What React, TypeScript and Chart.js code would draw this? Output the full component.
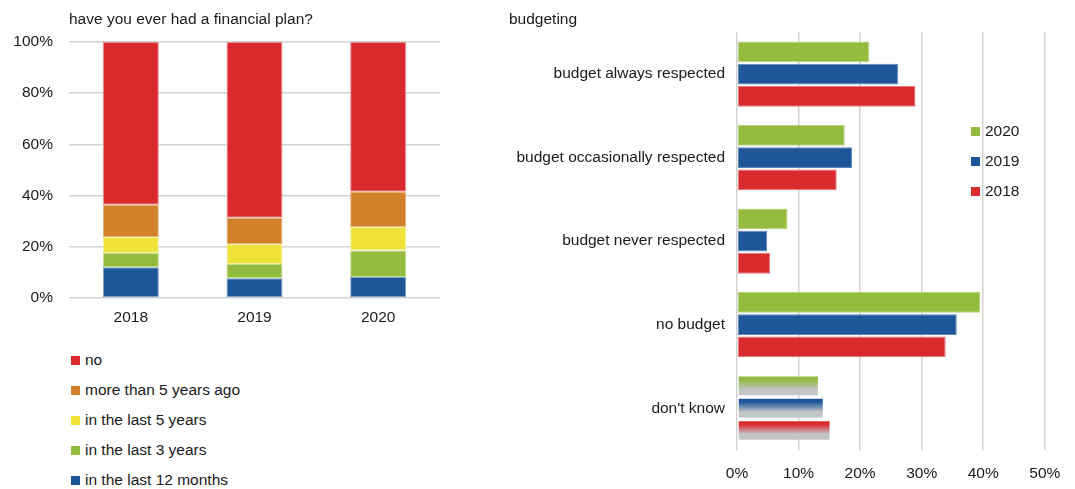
import React, { useEffect, useRef } from "react";
import { Chart, registerables } from "chart.js";

Chart.register(...registerables);

// ---------- Data: "have you ever had a financial plan?" ----------
const planYears = ["2018", "2019", "2020"];
const planLast12Months = [12.0, 7.7, 8.2];
const planLast3Years = [5.6, 5.6, 10.4];
const planLast5Years = [6.2, 7.8, 9.1];
const planMoreThan5Years = [12.6, 10.2, 13.8];
const planNo = [63.6, 68.7, 58.5];
const planSeriesNames = [
  "in the last 12 months",
  "in the last 3 years",
  "in the last 5 years",
  "more than 5 years ago",
  "no",
];
const planTickValues = [0, 20, 40, 60, 80, 100];

// ---------- Data: "budgeting" ----------
const budgetCategories = [
  "budget always respected",
  "budget occasionally respected",
  "budget never respected",
  "no budget",
  "don't know",
];
const budgetSeriesNames = ["2020", "2019", "2018"];
const budget2020 = [21.5, 17.5, 8.2, 39.5, 13.3];
const budget2019 = [26.2, 18.7, 4.9, 35.7, 14.1];
const budget2018 = [29.0, 16.2, 5.4, 33.9, 15.2];
const budgetTickValues = [0, 10, 20, 30, 40, 50];
const fadedCategory = "don't know";

// ---------- Styles ----------
const RED = "#d92b2e";
const ORANGE = "#d2802a";
const YELLOW = "#efe33b";
const GREEN = "#93bb3e";
const BLUE = "#1e5799";
const FADE_GREY = "#c3c4c6";
const TEXT = "#1a1a1a";
const GRID = "#d3d3d3";
const FONT_FAMILY = "'Liberation Sans', Arial, sans-serif";
const FONT_SIZE = 15.5;

const planColors = [BLUE, GREEN, YELLOW, ORANGE, RED];
const budgetColors = [GREEN, BLUE, RED];
const budgetBorders = ["#b4d27a", "#5f86b8", "#e87a7c"];
const planBorders = ["#7fa0c8", "#c2db92", "#f7f0a0", "#e8b483", "#ee8f90"];

const CAT_PCT = 0.8;
const BAR_PCT = 0.93;

function PlanChart() {
  const ref = useRef<HTMLCanvasElement>(null);
  useEffect(() => {
    if (!ref.current) return;
    const values = [planLast12Months, planLast3Years, planLast5Years, planMoreThan5Years, planNo];
    const chart = new Chart(ref.current, {
      type: "bar",
      data: {
        labels: planYears,
        datasets: values.map((v, i) => ({
          label: planSeriesNames[i],
          data: v,
          backgroundColor: planColors[i],
          borderColor: planBorders[i],
          borderWidth: 1,
          borderSkipped: false,
          categoryPercentage: 1,
          barPercentage: 0.453,
        })),
      },
      options: {
        responsive: false,
        animation: false,
        layout: { padding: { left: 0, right: 10, top: 0, bottom: 0 } },
        plugins: {
          legend: { display: false },
          tooltip: { enabled: false },
          title: {
            display: true,
            text: "have you ever had a financial plan?",
            align: "start",
            fullSize: false,
            color: TEXT,
            font: { family: FONT_FAMILY, size: FONT_SIZE, weight: "normal" },
            padding: { top: 10.7, bottom: 12.7 },
          },
        },
        scales: {
          x: {
            stacked: true,
            grid: { display: false, drawTicks: false },
            border: { display: false },
            ticks: {
              color: TEXT,
              padding: 10.2,
              font: { family: FONT_FAMILY, size: FONT_SIZE },
            },
            afterFit: (s: any) => {
              s.height = 32;
            },
          },
          y: {
            stacked: true,
            min: 0,
            max: 100,
            afterBuildTicks: (s: any) => {
              s.ticks = planTickValues.map((v) => ({ value: v }));
            },
            grid: { color: GRID, lineWidth: 1.5, drawTicks: false },
            border: { display: false },
            ticks: {
              color: TEXT,
              padding: 16,
              font: { family: FONT_FAMILY, size: FONT_SIZE },
              callback: (v: any) => v + "%",
            },
            afterFit: (s: any) => {
              s.width = 69;
            },
          },
        },
      },
    });
    return () => chart.destroy();
  }, []);
  return <canvas ref={ref} width={450} height={330} style={{ width: 450, height: 330, display: "block" }} />;
}

function fadedFill(ctx: any, color: string) {
  if (ctx.type !== "data") return color;
  if (budgetCategories[ctx.dataIndex] !== fadedCategory) return color;
  const chart = ctx.chart;
  const ys = chart.scales && chart.scales.y;
  if (!ys || ys.top === undefined || ys.bottom === undefined) return color;
  const catH = (ys.bottom - ys.top) / budgetCategories.length;
  const groupH = catH * CAT_PCT;
  const slot = groupH / budgetSeriesNames.length;
  const center = ys.getPixelForValue(ctx.dataIndex);
  const top = center - groupH / 2 + ctx.datasetIndex * slot + (slot * (1 - BAR_PCT)) / 2;
  const h = slot * BAR_PCT;
  if (!isFinite(top) || !isFinite(h)) return color;
  const g = chart.ctx.createLinearGradient(0, top, 0, top + h);
  g.addColorStop(0, color);
  g.addColorStop(0.2, color);
  g.addColorStop(0.68, FADE_GREY);
  g.addColorStop(1, FADE_GREY);
  return g;
}

function BudgetChart() {
  const ref = useRef<HTMLCanvasElement>(null);
  useEffect(() => {
    if (!ref.current) return;
    const values = [budget2020, budget2019, budget2018];
    const chart = new Chart(ref.current, {
      type: "bar",
      data: {
        labels: budgetCategories,
        datasets: values.map((v, i) => ({
          label: budgetSeriesNames[i],
          data: v,
          backgroundColor: (c: any) => fadedFill(c, budgetColors[i]),
          borderColor: (c: any) =>
            budgetCategories[c.dataIndex] === fadedCategory ? "rgba(255,255,255,0.4)" : budgetBorders[i],
          borderWidth: 1,
          borderSkipped: false,
          categoryPercentage: CAT_PCT,
          barPercentage: BAR_PCT,
        })),
      },
      options: {
        indexAxis: "y",
        responsive: false,
        animation: false,
        layout: { padding: { left: 29, right: 29.8, top: 0, bottom: 0 } },
        plugins: {
          legend: { display: false },
          tooltip: { enabled: false },
          title: {
            display: true,
            text: "budgeting",
            align: "start",
            fullSize: true,
            color: TEXT,
            font: { family: FONT_FAMILY, size: FONT_SIZE, weight: "normal" },
            padding: { top: 10.7, bottom: 3.0 },
          },
        },
        scales: {
          x: {
            min: 0,
            max: 50,
            afterBuildTicks: (s: any) => {
              s.ticks = budgetTickValues.map((v) => ({ value: v }));
            },
            grid: { color: GRID, lineWidth: 1.5, drawTicks: false },
            border: { display: false },
            ticks: {
              color: TEXT,
              padding: 14.7,
              font: { family: FONT_FAMILY, size: FONT_SIZE },
              callback: (v: any) => v + "%",
            },
            afterFit: (s: any) => {
              s.height = 39;
            },
          },
          y: {
            grid: { display: false, drawTicks: false },
            border: { display: false },
            ticks: {
              color: TEXT,
              padding: 12,
              font: { family: FONT_FAMILY, size: FONT_SIZE },
            },
            afterFit: (s: any) => {
              s.width = 228;
            },
          },
        },
      },
    });
    return () => chart.destroy();
  }, []);
  return <canvas ref={ref} width={595} height={489} style={{ width: 595, height: 489, display: "block" }} />;
}

const legendText: React.CSSProperties = {
  position: "absolute",
  fontFamily: FONT_FAMILY,
  fontSize: FONT_SIZE,
  color: TEXT,
  lineHeight: "18px",
  whiteSpace: "nowrap",
};

export default function App() {
  const planLegend = planSeriesNames.map((n, i) => ({ name: n, color: planColors[i] })).reverse();
  return (
    <div style={{ position: "absolute", left: 0, top: 0, width: 1075, height: 489, background: "#fff", overflow: "hidden" }}>
      <div style={{ position: "absolute", left: 0, top: 0 }}>
        <PlanChart />
      </div>
      <div style={{ position: "absolute", left: 480, top: 0 }}>
        <BudgetChart />
      </div>
      {planLegend.map((item, i) => (
        <div key={item.name} style={{ ...legendText, left: 71, top: 360 + i * 30 - 9 }}>
          <span
            style={{
              position: "absolute",
              left: 0,
              top: 4.5,
              width: 9,
              height: 9,
              background: item.color,
            }}
          />
          <span style={{ position: "absolute", left: 14, top: 0 }}>{item.name}</span>
        </div>
      ))}
      {budgetSeriesNames.map((n, i) => (
        <div key={n} style={{ ...legendText, left: 971, top: 131 + i * 30 - 9 }}>
          <span
            style={{
              position: "absolute",
              left: 0,
              top: 4.5,
              width: 9,
              height: 9,
              background: budgetColors[i],
            }}
          />
          <span style={{ position: "absolute", left: 14, top: 0 }}>{n}</span>
        </div>
      ))}
    </div>
  );
}
